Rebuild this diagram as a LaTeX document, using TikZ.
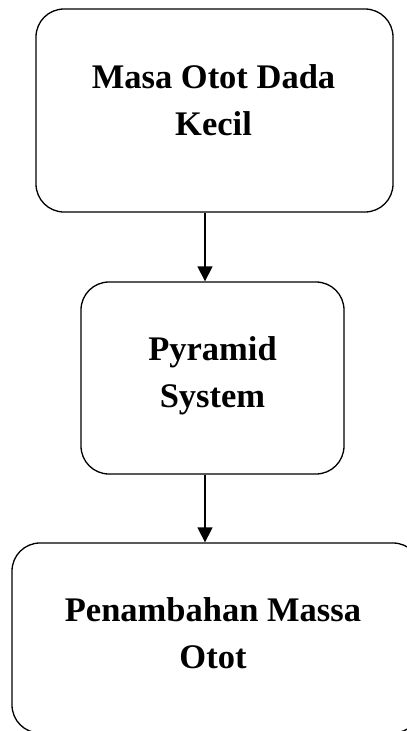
\documentclass[tikz,border=0pt]{standalone}
\usepackage{fontspec}
\setmainfont{Liberation Serif}
\usetikzlibrary{arrows.meta}
\begin{document}
\begin{tikzpicture}[x=1pt,y=-1pt,
  flowbox/.style={draw=black, line width=1.3pt, rounded corners=28pt, fill=white,
    inner sep=0pt},
  flowtext/.style={inner sep=0pt, align=center, anchor=base,
    font=\bfseries\fontsize{34.5pt}{47pt}\selectfont},
  flowarrow/.style={line width=1.3pt, -{Triangle[width=15pt,length=15pt]}}]
  \useasboundingbox (0,0) rectangle (407,731);
  \clip (0,0) rectangle (407,731);
  \node[flowbox, minimum width=357pt, minimum height=203pt] (a) at (214.5,110.5) {};
  \node[flowbox, minimum width=263pt, minimum height=192pt] (b) at (212.5,378) {};
  \node[flowbox, minimum width=409pt, minimum height=190pt] (c) at (216.5,638) {};
  \node[flowtext] (ta) at (213.5,135) {Masa Otot Dada\\Kecil};
  \node[flowtext] (tb) at (212.5,407) {Pyramid\\System};
  \node[flowtext] (tc) at (213,668) {Penambahan Massa\\Otot};
  \coordinate (x) at (205,0);
  \draw[flowarrow] (a.south -| x) -- (b.north -| x);
  \draw[flowarrow] (b.south -| x) -- (c.north -| x);
\end{tikzpicture}
\end{document}
